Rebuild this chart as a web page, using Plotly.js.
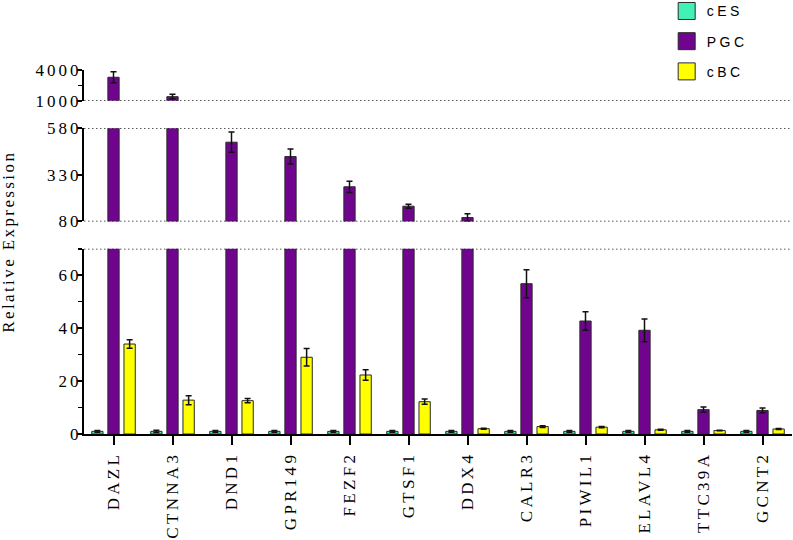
<!DOCTYPE html>
<html><head><meta charset="utf-8">
<script src="https://cdn.plot.ly/plotly-3.0.1.min.js"></script>
<style>
html,body{margin:0;padding:0;background:#fff}
#chart{width:793px;height:540px}
.xtick text{letter-spacing:3.3px}
.ytick text,.y2tick text,.y3tick text{letter-spacing:3px}
.legendtext{letter-spacing:3.5px}
.annotation-text{letter-spacing:2.4px}
.legendpoints path{d:path("M8.5,8.5H-8.5V-8.5H8.5Z")}
</style></head><body><div id="chart"></div>
<script>
const genes = ['DAZL','CTNNA3','DND1','GPR149','FEZF2','GTSF1','DDX4','CALR3','PIWIL1','ELAVL4','TTC39A','GCNT2'];
const cES = [1,1,1,1,1,1,1,1,1,1,1,1];
const cESErr = [0.3,0.4,0.3,0.3,0.3,0.3,0.3,0.3,0.3,0.3,0.3,0.3];
const PGC = [3290,1390,505,428,266,162,101,56.8,42.7,39.2,9.2,8.9];
const PGCErr = [550,230,54,40,30,11,20,5.3,3.5,4.3,1.0,0.9];
const cBC = [34,12.8,12.6,29,22.3,12.2,2.0,2.8,2.6,1.6,1.3,1.9];
const cBCErr = [1.6,1.7,0.8,3.3,2.0,1.0,0.2,0.3,0.2,0.2,0.1,0.2];
const seriesNames = ['cES','PGC','cBC'];
const seriesVals = [cES, PGC, cBC];
const seriesErr = [cESErr, PGCErr, cBCErr];
const seriesColors = ['#42F2B4','#70048F','#FFFF00'];

const axesIds = ['y','y2','y3'];
const traces = [];
axesIds.forEach((ya, ai) => {
  seriesNames.forEach((nm, si) => {
    traces.push({
      type:'bar', x: genes, y: seriesVals[si], name: nm,
      xaxis:'x', yaxis: ya, legendgroup: nm, showlegend: ai === 0,
      marker:{color: seriesColors[si], line:{color:'#2a2a2a', width:1}},
      error_y:{type:'data', array: seriesErr[si], visible:true, color:'#111', thickness:1.5, width:3},
      hoverinfo:'skip'
    });
  });
});

const serif = 'Liberation Serif, Times New Roman, serif';
const baseY = {
  showline:true, linecolor:'#000', linewidth:2, ticks:'outside', ticklen:5, tickwidth:2, tickcolor:'#000',
  ticklabelstandoff:-8,
  showgrid:false, zeroline:false, anchor:'x', tickfont:{family:serif, size:17, color:'#000'}, fixedrange:true
};
const dot = {dash:'1.5px,2.5px', color:'#222', width:1.5};
const layout = {
  width:793, height:540, paper_bgcolor:'#fff', plot_bgcolor:'#fff',
  margin:{l:84, r:1, t:70, b:105.5, autoexpand:false},
  barmode:'group', bargap:0.18, bargroupgap:0.3,
  showlegend:true,
  legend:{x:0.823, y:1.205, xanchor:'left', yanchor:'top', traceorder:'grouped', tracegroupgap:9,
    font:{family:'Liberation Sans, Arial, sans-serif', size:14, color:'#000'}, bgcolor:'rgba(0,0,0,0)'},
  xaxis:{type:'category', range:[-0.5,11.5], anchor:'y', showline:true, linecolor:'#000', linewidth:2,
    ticks:'outside', ticklen:9, tickwidth:2, tickcolor:'#000', tickangle:-90,
    tickfont:{family:serif, size:17, color:'#000'}, showgrid:false, zeroline:false, fixedrange:true},
  yaxis: Object.assign({}, baseY, {domain:[0,0.5089], range:[0,70], tickvals:[0,20,40,60],
    minor:{tickvals:[10,30,50,70], ticks:'outside', ticklen:4, tickwidth:1.5, tickcolor:'#000'}}),
  yaxis2: Object.assign({}, baseY, {domain:[0.5838,0.8401], range:[80,580], tickvals:[80,330,580]}),
  yaxis3: Object.assign({}, baseY, {domain:[0.9158,1], range:[1000,4000], tickvals:[1000,4000],
    minor:{tickvals:[2500], ticks:'outside', ticklen:4, tickwidth:1.5, tickcolor:'#000'}}),
  shapes:[
    {type:'line', xref:'paper', x0:0, x1:1, yref:'y', y0:70, y1:70, line:dot},
    {type:'line', xref:'paper', x0:0, x1:1, yref:'y2', y0:80, y1:80, line:dot},
    {type:'line', xref:'paper', x0:0, x1:1, yref:'y2', y0:580, y1:580, line:dot},
    {type:'line', xref:'paper', x0:0, x1:1, yref:'y3', y0:1000, y1:1000, line:dot}
  ],
  annotations:[
    {text:'Relative Expression', xref:'paper', yref:'paper', x:-0.106, y:0.528, textangle:-90,
     xanchor:'center', yanchor:'middle',
     showarrow:false, font:{family:serif, size:17, color:'#000'}}
  ]
};
Plotly.newPlot('chart', traces, layout, {staticPlot:true});
</script></body></html>
